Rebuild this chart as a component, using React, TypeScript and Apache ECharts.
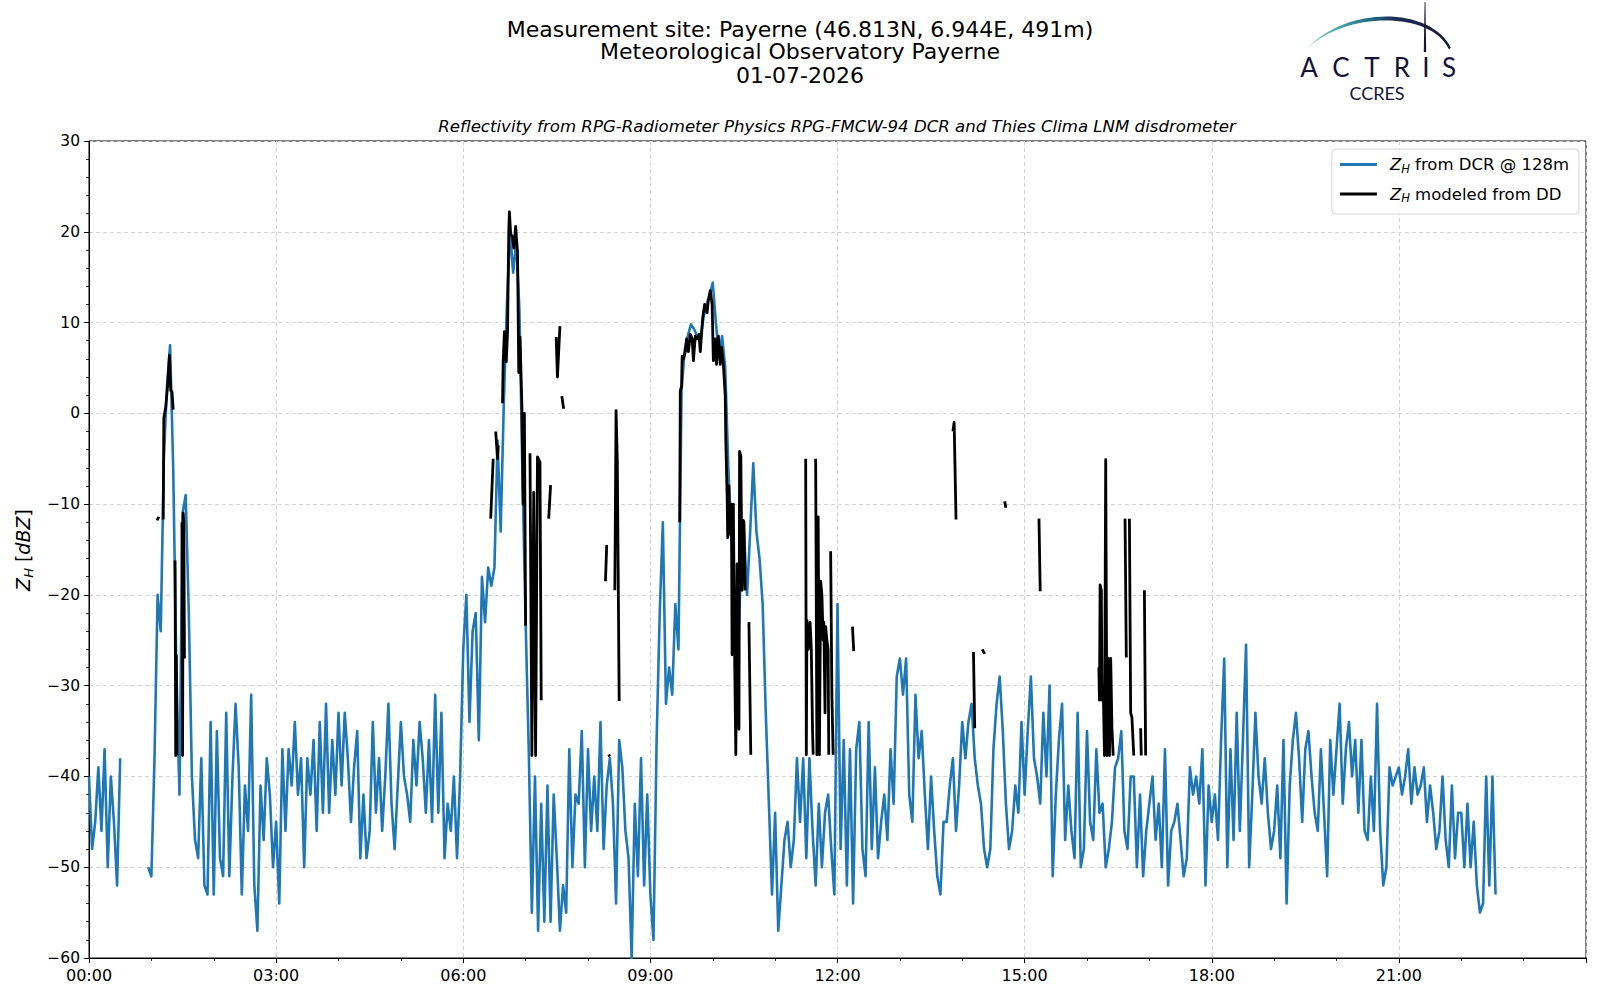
import React, { useEffect, useRef } from "react";
import * as echarts from "echarts";

const FONT = "DejaVu Sans";

// ---- data -------------------------------------------------------------
// DCR reflectivity, one row per hour, 20 samples per hour (3-minute steps)
const STEP_HOURS = 0.05;
const dcrByHour: (number | null)[][] = [
  [-40, -48, -45, -39, -46, -37, -50, -40, -45, -52, -38, null, null, null, null, null, null, null, null, -50],
  [-51, -38, -20, -24, -5, 3, 7.5, -6, -28, -42, -11, -9, -22, -40, -47, -49, -38, -52, -53, -34],
  [-53, -35, -49, -51, -33, -51, -40, -32, -39, -53, -41, -46, -31, -52, -57, -41, -47, -38, -42, -50],
  [-45, -54, -37, -46, -37, -41, -34, -42, -38, -50, -38, -42, -36, -46, -34, -44, -32, -44, -36, -42],
  [-33, -41, -33, -38, -45, -39, -35, -49, -42, -49, -46, -34, -44, -38, -46, -40, -32, -43, -48, -41],
  [-34, -40, -42, -45, -36, -41, -34, -38, -44, -36, -45, -31, -44, -33, -49, -43, -46, -40, -49, -40],
  [-26, -20, -34, -24, -22, -36, -18, -23, -17, -19, -17, -3, -13, 1, 12, 20, 15.5, 19, 11.5, -7],
  [-23, -37, -55, -40, -57, -43, -56, -41, -56, -42, -49, -57, -52, -55, -37, -50, -42, -43, -35, -50],
  [-37, -46, -40, -46, -34, -48, -41, -38, -43, -54, -36, -39, -46, -49, -60, -43, -51, -38, -52, -42],
  [-53, -58, -36, -22, -12, -32, -28, -31, -21, -26, 2.5, 7, 8.5, 9.8, 9.3, 8.5, 8, 10.5, 12, 13],
  [14.4, 10, 6.3, 8.5, 5, -6, -14, -20, -28, -17, -13, -20, -13, -5.5, -13, -16, -21, -33, -43, -53],
  [-44, -57, -52, -47, -45, -50, -47, -38, -45, -38, -49, -38, -46, -52, -43, -50, -44, -42, -48, -53],
  [-21, -48, -36, -52, -37, -54, -37, -34, -48, -51, -34, -48, -39, -49, -45, -42, -47, -37, -43, -29],
  [-27, -31, -27, -42, -45, -31, -38, -35, -42, -48, -40, -46, -51, -53, -45, -45, -41, -38, -46, -41],
  [-34, -38, -34, -32, -38, -41, -43, -48, -50, -48, -37, -32, -29, -35, -43, -48, -46, -41, -44, -34],
  [-42, -35, -29, -38, -40, -43, -33, -40, -30, -51, -42, -36, -32, -47, -41, -46, -49, -33, -50, -48],
  [-35, -45, -47, -37, -44, -43, -50, -48, -45, -39, -38, -35, -46, -48, -40, -40, -50, -42, -51, -46],
  [-43, -40, -47, -43, -50, -37, -52, -46, -45, -43, -47, -51, -49, -39, -42, -40, -43, -37, -52, -41],
  [-45, -42, -47, -36, -27, -50, -37, -47, -33, -46, -36, -25.5, -50, -42, -33, -40, -43, -38, -44, -48],
  [-46, -41, -49, -36, -54, -41, -36, -33, -38, -45, -37, -35, -40, -44, -46, -37, -44, -51, -36, -42],
  [-37, -32, -43, -37, -34, -40, -36, -44, -36, -46, -47, -40, -46, -32, -46, -52, -50, -39, -41, -40],
  [-39, -42, -40, -37, -43, -39, -42, -41, -39, -45, -41, -44, -48, -46, -40, -47, -50, -41, -49, -44],
  [-44, -50, -43, -50, -45, -52, -55, -54, -40, -52, -40, -53, null, null, null, null, null, null, null, null],
];

// Disdrometer-modeled reflectivity: separate segments of [hour, dBZ]
const ddSegments: [number, number][][] = [
  [[1.09, -11.8], [1.12, -11.4]],
  [[1.19, -11.7], [1.2, -0.5], [1.23, 0.7], [1.26, 3], [1.29, 6.4], [1.31, 2.5], [1.33, 2.4], [1.35, 0.4]],
  [[1.38, -16.2], [1.39, -37.7], [1.4, -26.7], [1.41, -37.7]],
  [[1.49, -12], [1.5, -37.7], [1.51, -11], [1.52, -12], [1.53, -27]],
  [[6.44, -11.6], [6.48, -5]],
  [[6.52, -2], [6.55, -5], [6.56, -3.5]],
  [[6.63, 1.1], [6.64, 5.7], [6.66, 9], [6.69, 5.7], [6.71, 9], [6.73, 20.2], [6.74, 22.2], [6.76, 19.8], [6.79, 19.4], [6.81, 18.2], [6.84, 20.6], [6.87, 17.8], [6.89, 4.5], [6.91, 8.4], [6.94, 0.9], [6.96, -10], [6.98, 0], [7.0, -23.4]],
  [[7.07, -4.4], [7.1, -37.7], [7.13, -8.7], [7.16, -37.7], [7.19, -4.8], [7.23, -5.4], [7.25, -31.6]],
  [[7.37, -11.6], [7.4, -7.9]],
  [[7.49, 8.4], [7.51, 4], [7.55, 9.6]],
  [[7.58, 1.9], [7.61, 0.5]],
  [[8.28, -18.5], [8.3, -14.5]],
  [[8.33, -37.6], [8.35, -37.8]],
  [[8.43, -19.5], [8.45, 0.3], [8.47, -5.4], [8.5, -31.7]],
  [[9.47, -12], [9.48, 2.5], [9.5, 3], [9.51, 6.3], [9.53, 6], [9.56, 6.8], [9.58, 8.2], [9.61, 6.8], [9.64, 8.7], [9.67, 8.2], [9.69, 5.8], [9.72, 8.5], [9.75, 8.2], [9.78, 8.7], [9.8, 6.8], [9.84, 10.6], [9.87, 12], [9.91, 11.1], [9.93, 12.5], [9.96, 13.5], [9.99, 12], [10.01, 5.8], [10.04, 8.2], [10.06, 5.4], [10.09, 8.5], [10.12, 5.4], [10.14, 7.3], [10.17, 5.4], [10.2, 2], [10.21, -3.2], [10.23, -9], [10.24, -13.7], [10.26, -8], [10.27, -13.3], [10.3, -10], [10.31, -26.6], [10.33, -10], [10.35, -26.2], [10.37, -37.6], [10.39, -16.6], [10.4, -27.6], [10.42, -34.8], [10.43, -4.2], [10.45, -4.7], [10.47, -19.5], [10.49, -11.8], [10.5, -12], [10.52, -19.5]],
  [[10.58, -23], [10.61, -37.6]],
  [[11.49, -5], [11.5, -37.6], [11.51, -22.8], [11.53, -26], [11.56, -23], [11.58, -26], [11.6, -35], [11.61, -37.6]],
  [[11.65, -5], [11.67, -37.6], [11.69, -11.4], [11.71, -37.6], [11.73, -18.5], [11.75, -20], [11.77, -25], [11.78, -23], [11.8, -33], [11.81, -23.5], [11.83, -25], [11.85, -26], [11.86, -37.6]],
  [[11.89, -15.2], [11.91, -31], [11.93, -37.6]],
  [[12.24, -23.5], [12.26, -26.2]],
  [[13.85, -2], [13.87, -1], [13.9, -11.7]],
  [[14.18, -26.3], [14.2, -34.7]],
  [[14.32, -26], [14.36, -26.5]],
  [[14.68, -9.7], [14.7, -10.4]],
  [[15.23, -11.6], [15.25, -19.6]],
  [[16.19, -28], [16.2, -31.6], [16.21, -18.9], [16.23, -19.5], [16.24, -31.6], [16.26, -30], [16.28, -37.7], [16.3, -5.1], [16.32, -37.7], [16.34, -27], [16.36, -37.7], [16.38, -27], [16.4, -34.7], [16.42, -37.7]],
  [[16.61, -11.6], [16.63, -26.9]],
  [[16.68, -11.6], [16.7, -33], [16.72, -33.5], [16.75, -37.7]],
  [[16.86, -34.7], [16.87, -37.7]],
  [[16.92, -19.5], [16.94, -37.7]],
];

const titleLines = [
  "Measurement site: Payerne (46.813N, 6.944E, 491m)",
  "Meteorological Observatory Payerne",
  "01-07-2026",
];
const subtitle =
  "Reflectivity from RPG-Radiometer Physics RPG-FMCW-94 DCR and Thies Clima LNM disdrometer";
const seriesDcr = "Z_H from DCR @ 128m";
const seriesDd = "Z_H modeled from DD";
const legendRich: Record<string, string> = {
  [seriesDcr]: "{sp| }{i|Z}{s|H}{t| from DCR @ 128m}",
  [seriesDd]: "{sp| }{i|Z}{s|H}{t| modeled from DD}",
};
const xMin = 0;
const xMax = 24;
const xInterval = 3;
const yMin = -60;
const yMax = 30;
const yInterval = 10;

// ---- logo shape ---------------------------------------------------------
const ARC_PATH =
  "M1306.7,49.3 C1345,6 1430,6 1450.8,47.6 L1449,49.6 C1432,11 1345,11 1306.7,49.3 Z";
echarts.graphic.registerShape("actrisArc", echarts.graphic.extendPath(ARC_PATH, {}));

function buildDcr() {
  const out: (number | string)[][] = [];
  dcrByHour.forEach((row, h) => {
    row.forEach((v, k) => {
      const x = +(h + k * STEP_HOURS).toFixed(3);
      out.push([x, v === null ? "-" : v]);
    });
  });
  return out;
}

function buildDd() {
  const out: (number | string)[][] = [];
  ddSegments.forEach((seg) => {
    seg.forEach((p) => out.push([p[0], p[1]]));
    out.push([seg[seg.length - 1][0] + 0.002, "-"]);
  });
  return out;
}

const pad2 = (n: number) => (n < 10 ? "0" + n : "" + n);

export default function App() {
  const ref = useRef<HTMLDivElement>(null);
  useEffect(() => {
    if (!ref.current) return;
    const chart = echarts.init(ref.current, undefined, { renderer: "svg" });

    const letters: [string, number][] = [
      ["A", 1309],
      ["C", 1341],
      ["T", 1372],
      ["R", 1402],
      ["I", 1426],
      ["S", 1449],
    ];
    const navy = "#14143a";

    const graphics: any[] = [
      ...titleLines.map((t, i) => ({
        type: "text",
        x: 800,
        y: [29, 51, 75][i],
        style: {
          text: t,
          fontFamily: FONT,
          fontSize: 22,
          fill: "#000",
          align: "center",
          verticalAlign: "middle",
        },
      })),
      {
        type: "text",
        x: 837,
        y: 126,
        style: {
          text: subtitle,
          fontFamily: FONT,
          fontSize: 16.6,
          fontStyle: "italic",
          fill: "#000",
          align: "center",
          verticalAlign: "middle",
        },
      },
      {
        type: "text",
        x: 23,
        y: 550,
        rotation: Math.PI / 2,
        style: {
          text: "{i|Z}{s|H}{t| [}{i|dBZ}{t|]}",
          fontFamily: FONT,
          fontSize: 19,
          fill: "#000",
          align: "center",
          verticalAlign: "middle",
          rich: {
            i: { fontFamily: FONT, fontSize: 19, fontStyle: "italic", lineHeight: 24 },
            t: { fontFamily: FONT, fontSize: 19, lineHeight: 24 },
            s: { fontFamily: FONT, fontSize: 13, fontStyle: "italic", lineHeight: 9, verticalAlign: "bottom" },
          },
        },
      },
      // logo
      {
        type: "actrisArc",
        x: 0,
        y: 0,
        scaleX: 1,
        scaleY: 1,
        style: {
          fill: new echarts.graphic.LinearGradient(0, 0, 1, 0, [
            { offset: 0, color: "#86d6cf" },
            { offset: 0.25, color: "#3f9fa8" },
            { offset: 0.45, color: "#236a83" },
            { offset: 0.62, color: "#1c2d55" },
            { offset: 1, color: "#15163c" },
          ]),
        },
      },
      {
        type: "polygon",
        shape: {
          points: [
            [1424.6, 2],
            [1425.4, 2],
            [1426.2, 52],
            [1423.8, 52],
          ],
        },
        style: { fill: navy },
      },
      ...letters.map(([ch, x]) => ({
        type: "text",
        x,
        y: 67,
        style: {
          text: ch,
          fontFamily: "Lato",
          fontSize: 26,
          fill: navy,
          align: "center",
          verticalAlign: "middle",
        },
      })),
      {
        type: "text",
        x: 1377,
        y: 93,
        style: {
          text: "CCRES",
          fontFamily: "Lato",
          fontSize: 18,
          fill: navy,
          align: "center",
          verticalAlign: "middle",
        },
      },
    ];

    const legendTextRich = {
      sp: { fontFamily: FONT, fontSize: 16.5, width: 8, lineHeight: 20 },
      i: { fontFamily: FONT, fontSize: 16.5, fontStyle: "italic", lineHeight: 20, color: "#000" },
      t: { fontFamily: FONT, fontSize: 16.5, lineHeight: 20, color: "#000" },
      s: { fontFamily: FONT, fontSize: 11.5, fontStyle: "italic", lineHeight: 8, verticalAlign: "bottom", color: "#000" },
    };

    const option: any = {
      animation: false,
      backgroundColor: "#ffffff",
      textStyle: { fontFamily: FONT },
      grid: {
        left: 89,
        top: 141,
        right: 14,
        bottom: 42,
        show: true,
        borderColor: "#000",
        borderWidth: 1,
        backgroundColor: "transparent",
      },
      legend: {
        orient: "vertical",
        right: 21,
        top: 149,
        padding: [7, 10, 10, 8],
        itemGap: 11,
        itemWidth: 37,
        itemHeight: 3,
        icon: "rect",
        selectedMode: false,
        borderColor: "#d4d4d4",
        borderWidth: 1,
        borderRadius: 4,
        backgroundColor: "rgba(255,255,255,0.85)",
        data: [seriesDcr, seriesDd],
        formatter: (name: string) => legendRich[name] || name,
        textStyle: { fontFamily: FONT, fontSize: 16.5, color: "#000", rich: legendTextRich },
      },
      xAxis: {
        type: "value",
        min: xMin,
        max: xMax,
        interval: xInterval,
        axisLine: { show: true, onZero: false, lineStyle: { color: "#000", width: 1 } },
        axisTick: { show: true, length: 5, lineStyle: { color: "#000", width: 1 } },
        minorTick: { show: true, splitNumber: 3, length: 3, lineStyle: { color: "#000", width: 0.8 } },
        axisLabel: {
          color: "#000",
          fontFamily: FONT,
          fontSize: 16,
          margin: 9,
          showMaxLabel: false,
          formatter: (v: number) => (v >= 24 ? "" : pad2(v) + ":00"),
        },
        splitLine: { show: true, lineStyle: { color: "#d2d2d2", width: 1, type: [4, 3] } },
      },
      yAxis: {
        type: "value",
        min: yMin,
        max: yMax,
        interval: yInterval,
        axisLine: { show: true, onZero: false, lineStyle: { color: "#000", width: 1 } },
        axisTick: { show: true, length: 5, lineStyle: { color: "#000", width: 1 } },
        minorTick: { show: true, splitNumber: 5, length: 3, lineStyle: { color: "#000", width: 0.8 } },
        axisLabel: {
          color: "#000",
          fontFamily: FONT,
          fontSize: 15.5,
          margin: 9,
          formatter: (v: number) => (v < 0 ? "\u2212" + Math.abs(v) : String(v)),
        },
        splitLine: { show: true, lineStyle: { color: "#d2d2d2", width: 1, type: [4, 3] } },
      },
      series: [
        {
          name: seriesDcr,
          type: "line",
          data: buildDcr(),
          showSymbol: false,
          symbol: "none",
          connectNulls: false,
          color: "#1f77b4",
          lineStyle: { color: "#1f77b4", width: 2.6, join: "round" },
          z: 2,
        },
        {
          name: seriesDd,
          type: "line",
          data: buildDd(),
          showSymbol: false,
          symbol: "none",
          connectNulls: false,
          color: "#000000",
          lineStyle: { color: "#000000", width: 2.8, join: "round" },
          z: 3,
        },
      ],
      graphic: graphics,
    };

    chart.setOption(option);
    return () => chart.dispose();
  }, []);

  return (
    <div
      ref={ref}
      style={{ position: "absolute", left: 0, top: 0, width: 1600, height: 1000, background: "#fff" }}
    />
  );
}
